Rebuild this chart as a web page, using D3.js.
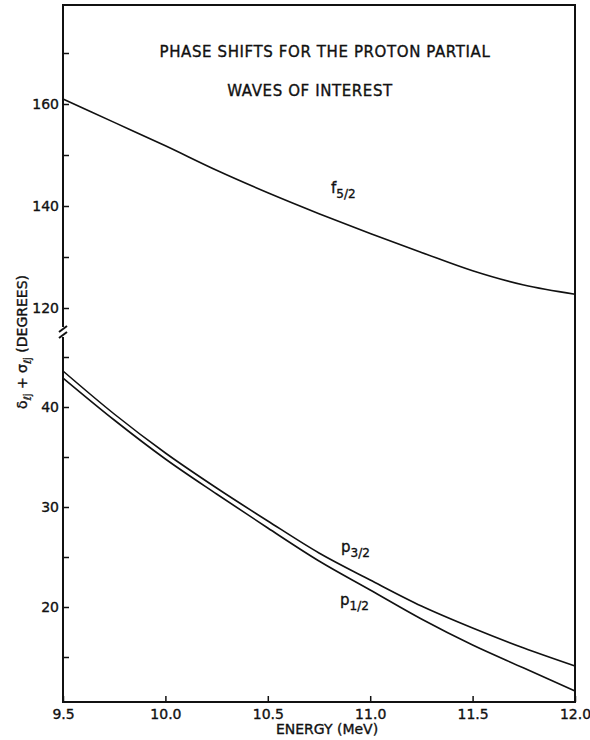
<!DOCTYPE html>
<html lang="en">
<head>
<meta charset="utf-8">
<title>Phase shifts</title>
<script src="https://d3js.org/d3.v7.min.js"></script>
<style>
body { margin: 0; background: #fff; }
text { font-family: "DejaVu Sans", sans-serif; fill: #111; stroke: #111; stroke-width: 0.35px; }
.tick line { stroke: #111; stroke-width: 1.5; }
.tick text { font-size: 14px; }
.curve { fill: none; stroke: #111; stroke-width: 1.6; }
.frame { stroke: #111; stroke-width: 2; fill: none; }
</style>
</head>
<body>
<script>
// energy grid (MeV)
var energy = [9.5, 9.75, 10.0, 10.25, 10.5, 10.75, 11.0, 11.25, 11.5, 11.75, 12.0];

// phase shifts (degrees)
var f52 = [161.0, 156.4, 151.8, 147.0, 142.6, 138.5, 134.6, 130.9, 127.3, 124.5, 122.7];
var p32 = [43.6, 39.3, 35.4, 31.9, 28.6, 25.4, 22.7, 20.1, 17.9, 15.9, 14.1];
var p12 = [42.9, 38.7, 34.8, 31.3, 27.9, 24.6, 21.7, 18.8, 16.2, 13.9, 11.6];

var xTicks = [9.5, 10.0, 10.5, 11.0, 11.5, 12.0];
var upperTicks = [120, 130, 140, 150, 160, 170];
var upperLabels = [120, 140, 160];
var lowerTicks = [15, 20, 25, 30, 35, 40, 45];
var lowerLabels = [20, 30, 40];

var W = 590, H = 740;
var pLeft = 63, pRight = 575, pTop = 5, pBottom = 702, brk = 332;

var svg = d3.select("body").append("svg")
  .attr("width", W)
  .attr("height", H);

svg.append("rect").attr("width", W).attr("height", H).attr("fill", "#fff");

var x = d3.scaleLinear().domain([9.5, 12.0]).range([pLeft, pRight]);
var yUp = d3.scaleLinear().domain([120, 160]).range([308, 104]);
var yLow = d3.scaleLinear().domain([20, 40]).range([607, 407]);

/* axes */
var gx = svg.append("g")
  .attr("transform", "translate(0," + pBottom + ")")
  .call(d3.axisBottom(x).tickValues(xTicks).tickSize(-6).tickPadding(7)
    .tickFormat(d3.format(".1f")));
gx.select(".domain").remove();

var gu = svg.append("g")
  .attr("transform", "translate(" + pLeft + ",0)")
  .call(d3.axisLeft(yUp).tickValues(upperTicks).tickSize(-6).tickPadding(4)
    .tickFormat(function(d) { return upperLabels.indexOf(d) >= 0 ? d : ""; }));
gu.select(".domain").remove();

var gl = svg.append("g")
  .attr("transform", "translate(" + pLeft + ",0)")
  .call(d3.axisLeft(yLow).tickValues(lowerTicks).tickSize(-6).tickPadding(4)
    .tickFormat(function(d) { return lowerLabels.indexOf(d) >= 0 ? d : ""; }));
gl.select(".domain").remove();

/* frame, broken on the left side */
svg.append("path").attr("class", "frame")
  .attr("d", "M" + pLeft + "," + (brk - 5) + "V" + pTop + "H" + pRight + "V" + pBottom + "H" + pLeft + "V" + (brk + 5));

// break marks
[-3, 3].forEach(function(o) {
  svg.append("line").attr("class", "frame").attr("stroke-width", 1.5)
    .attr("x1", pLeft - 4).attr("y1", brk + o + 3)
    .attr("x2", pLeft + 4).attr("y2", brk + o - 3);
});

/* curves */
function series(vals) { return energy.map(function(e, i) { return [e, vals[i]]; }); }

var lineUp = d3.line().x(function(d) { return x(d[0]); }).y(function(d) { return yUp(d[1]); })
  .curve(d3.curveMonotoneX);
var lineLow = d3.line().x(function(d) { return x(d[0]); }).y(function(d) { return yLow(d[1]); })
  .curve(d3.curveMonotoneX);

svg.append("path").attr("class", "curve").attr("d", lineUp(series(f52)));
svg.append("path").attr("class", "curve").attr("d", lineLow(series(p32)));
svg.append("path").attr("class", "curve").attr("d", lineLow(series(p12)));

/* curve labels */
function subLabel(px, py, main, sub) {
  var t = svg.append("text").attr("x", px).attr("y", py).style("font-size", "15px");
  t.append("tspan").text(main);
  t.append("tspan").attr("dy", 5).style("font-size", "12px").text(sub);
}
subLabel(331, 193, "f", "5/2");
subLabel(341, 552, "p", "3/2");
subLabel(340, 605, "p", "1/2");

/* title */
svg.append("text").attr("x", 325).attr("y", 57).attr("text-anchor", "middle")
  .style("font-size", "15px").style("letter-spacing", "0.6px")
  .text("PHASE SHIFTS FOR THE PROTON PARTIAL");
svg.append("text").attr("x", 310).attr("y", 96).attr("text-anchor", "middle")
  .style("font-size", "15px").style("letter-spacing", "0.6px")
  .text("WAVES OF INTEREST");

/* axis titles */
svg.append("text").attr("x", 327).attr("y", 734).attr("text-anchor", "middle")
  .style("font-size", "14px").text("ENERGY (MeV)");

var yt = svg.append("text")
  .attr("transform", "translate(27,342) rotate(-90)")
  .attr("text-anchor", "middle")
  .style("font-size", "14px");
yt.append("tspan").text("δ");
yt.append("tspan").attr("dy", 4).style("font-size", "10px").text("ℓj");
yt.append("tspan").attr("dy", -4).text(" + σ");
yt.append("tspan").attr("dy", 4).style("font-size", "10px").text("ℓj");
yt.append("tspan").attr("dy", -4).text(" (DEGREES)");
</script>
</body>
</html>
